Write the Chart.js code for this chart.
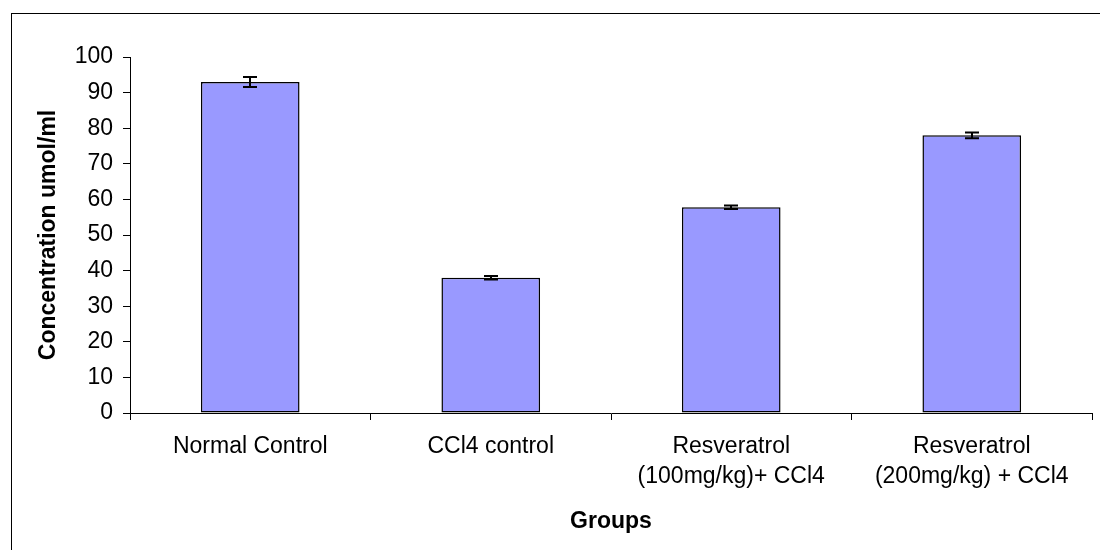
<!DOCTYPE html>
<html>
<head>
<meta charset="utf-8">
<script src="https://cdn.jsdelivr.net/npm/chart.js@4"></script>
<style>
  html, body { margin: 0; padding: 0; background: #fff; }
  #wrap { width: 1100px; height: 550px; position: relative; }
</style>
</head>
<body>
<div id="wrap"><canvas id="chart"></canvas></div>
<script>
    // values
    const groups = [
        "Normal Control",
        "CCl4 control",
        ["Resveratrol", "(100mg/kg)+ CCl4"],
        ["Resveratrol", "(200mg/kg) + CCl4"],
    ];
    const concentration = [93, 38, 57.8, 78];
    const errors = [1.4, 0.5, 0.5, 0.8];
    const yTicks = [0, 10, 20, 30, 40, 50, 60, 70, 80, 90, 100];

    const FONT = "'Liberation Sans', Arial, sans-serif";

    // thin frame round the whole picture (cut off on right/bottom like the source)
    const framePlugin = {
        id: "frame",
        beforeDraw(chart) {
            const ctx = chart.ctx;
            ctx.save();
            ctx.strokeStyle = "#000";
            ctx.lineWidth = 1;
            ctx.strokeRect(11.5, 13.5, 1200, 700);
            ctx.restore();
        },
    };

    // error bars: value +/- error, placed through the y scale
    const errorBarPlugin = {
        id: "errorBars",
        afterDatasetsDraw(chart) {
            const ctx = chart.ctx;
            const y = chart.scales.y;
            const meta = chart.getDatasetMeta(0);
            ctx.save();
            ctx.strokeStyle = "#000";
            ctx.lineWidth = 2;
            meta.data.forEach((bar, i) => {
                const v = concentration[i], e = errors[i];
                const top = y.getPixelForValue(v + e);
                const bot = y.getPixelForValue(v - e);
                const x = Math.round(bar.x);
                ctx.beginPath();
                ctx.moveTo(x, top); ctx.lineTo(x, bot);
                ctx.moveTo(x - 7, top); ctx.lineTo(x + 7, top);
                ctx.moveTo(x - 7, bot); ctx.lineTo(x + 7, bot);
                ctx.stroke();
            });
            ctx.restore();
        },
    };

    new Chart(document.getElementById("chart"), {
        type: "bar",
        data: {
            labels: groups,
            datasets: [{
                data: concentration,
                backgroundColor: "#9999FF",
                borderColor: "#000",
                borderWidth: 1.5,
                borderSkipped: false,
                barPercentage: 0.41,
                categoryPercentage: 1,
            }],
        },
        options: {
            responsive: true,
            maintainAspectRatio: false,
            animation: false,
            events: [],
            layout: { padding: { left: 0, right: 8, top: 57, bottom: 0 } },
            plugins: { legend: { display: false }, tooltip: { enabled: false } },
            scales: {
                x: {
                    offset: true,
                    grid: { offset: true, drawOnChartArea: false, tickLength: 7, color: "#000" },
                    border: { color: "#000", width: 1 },
                    ticks: {
                        color: "#000", padding: 12, maxRotation: 0, autoSkip: false,
                        font: { family: FONT, size: 23, lineHeight: 1.3 },
                    },
                    title: {
                        display: true, text: "Groups", color: "#000",
                        font: { family: FONT, size: 23, weight: "bold" },
                        padding: { top: 0, bottom: 15 },
                    },
                    afterFit(scale) { scale.height = 137; },
                },
                y: {
                    min: 0, max: 100,
                    afterBuildTicks(scale) { scale.ticks = yTicks.map(v => ({ value: v })); },
                    grid: { drawOnChartArea: false, tickLength: 7, color: "#000" },
                    border: { color: "#000", width: 1 },
                    ticks: {
                        color: "#000", padding: 10,
                        font: { family: FONT, size: 23 },
                    },
                    title: {
                        display: true, text: "Concentration umol/ml", color: "#000",
                        font: { family: FONT, size: 23, weight: "bold" },
                        padding: { top: 35, bottom: 0 },
                    },
                    afterFit(scale) { scale.width = 130; },
                },
            },
        },
        plugins: [framePlugin, errorBarPlugin],
    });
</script>
</body>
</html>
